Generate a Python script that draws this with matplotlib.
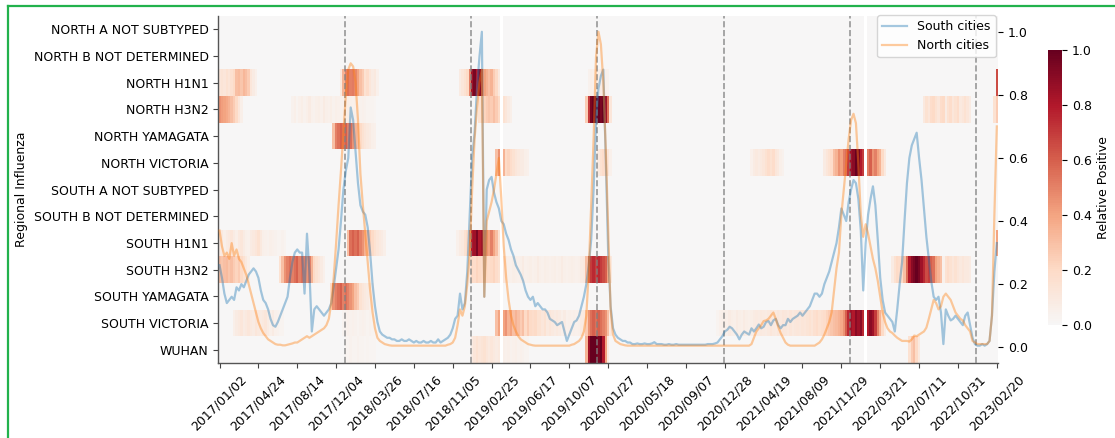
import numpy as np
import matplotlib
matplotlib.use("Agg")
import matplotlib.pyplot as plt
from matplotlib.colors import ListedColormap
from matplotlib.lines import Line2D

# ---- data (weekly, 2017/01/02 .. 2023/02/20) ----
n_weeks = 321

row_labels = ['NORTH A NOT SUBTYPED', 'NORTH B NOT DETERMINED', 'NORTH H1N1', 'NORTH H3N2',
              'NORTH YAMAGATA', 'NORTH VICTORIA', 'SOUTH A NOT SUBTYPED', 'SOUTH B NOT DETERMINED',
              'SOUTH H1N1', 'SOUTH H3N2', 'SOUTH YAMAGATA', 'SOUTH VICTORIA', 'WUHAN']

tick_labels = ['2017/01/02', '2017/04/24', '2017/08/14', '2017/12/04', '2018/03/26', '2018/07/16',
               '2018/11/05', '2019/02/25', '2019/06/17', '2019/10/07', '2020/01/27', '2020/05/18',
               '2020/09/07', '2020/12/28', '2021/04/19', '2021/08/09', '2021/11/29', '2022/03/21',
               '2022/07/11', '2022/10/31', '2023/02/20']
tick_weeks = [0, 16, 32, 48, 64, 80, 96, 112, 128, 144, 160, 176, 192, 208, 224, 240, 256, 272,
              288, 304, 320]

season_marks = [52, 104, 156, 208, 260, 312]
gap_weeks = [116, 266]

# positive rate per region (start week, values); weeks not listed are 0
north_a = []
north_b = []
north_h1n1 = [
    (0, [0.12, 0.14, 0.12, 0.15, 0.13, 0.16, 0.20, 0.30, 0.32, 0.28, 0.33, 0.30, 0.25, 0.12, 0.08, 0.05]),
    (50, [0.10, 0.35, 0.50, 0.55, 0.50, 0.52, 0.48, 0.40, 0.30, 0.25, 0.15, 0.18, 0.12, 0.08, 0.10, 0.05]),
    (99, [0.08, 0.12, 0.15, 0.20, 0.50, 0.85, 0.95, 0.80, 0.90, 0.70, 0.40, 0.35, 0.30, 0.35, 0.25, 0.20, 0.10]),
    (152, [0.04, 0.06, 0.05, 0.07, 0.06, 0.08, 0.06, 0.05, 0.04]),
    (320, [0.65]),
]
north_h3n2 = [
    (0, [0.45, 0.42, 0.40, 0.38, 0.35, 0.30, 0.25, 0.20, 0.12, 0.06]),
    (30, [0.04, 0.06, 0.03, 0.05, 0.07, 0.04, 0.06, 0.08, 0.05, 0.04, 0.06, 0.07, 0.05, 0.08, 0.06, 0.05,
          0.07, 0.04, 0.06, 0.05, 0.04, 0.05, 0.06, 0.07, 0.06, 0.05, 0.06, 0.05, 0.04, 0.05, 0.04, 0.03,
          0.03, 0.03, 0.02]),
    (107, [0.15, 0.20, 0.22, 0.25, 0.28, 0.25, 0.30, 0.25, 0.20, 0.00, 0.15, 0.12, 0.08, 0.06]),
    (151, [0.25, 0.70, 0.95, 1.00, 1.00, 1.00, 0.95, 1.00, 0.85, 0.55, 0.12]),
    (290, [0.10, 0.15, 0.12, 0.18, 0.20, 0.15, 0.12, 0.18, 0.20, 0.08, 0.15, 0.18, 0.12, 0.15, 0.18, 0.10,
           0.12, 0.15, 0.12, 0.08]),
    (319, [0.15, 0.25]),
]
north_yamagata = [
    (47, [0.30, 0.50, 0.55, 0.60, 0.55, 0.60, 0.50, 0.55, 0.45, 0.35, 0.30, 0.20, 0.15, 0.12, 0.10, 0.08,
          0.06, 0.05]),
]
north_victoria = [
    (114, [0.30, 0.45, 0.00, 0.35, 0.20, 0.22, 0.18, 0.15, 0.12, 0.10, 0.08, 0.08, 0.06, 0.05]),
    (156, [0.10, 0.15, 0.18, 0.15, 0.12, 0.05]),
    (219, [0.05, 0.08, 0.10, 0.08, 0.10, 0.12, 0.15, 0.18, 0.15, 0.18, 0.12, 0.10, 0.06, 0.04]),
    (249, [0.08, 0.12, 0.15, 0.18, 0.30, 0.35, 0.45, 0.40, 0.50, 0.55, 0.70, 0.85, 0.90, 1.00, 0.95, 0.80,
           0.70, 0.00, 0.50, 0.60, 0.45, 0.50, 0.40, 0.35, 0.20, 0.10]),
]
south_a = []
south_b = []
south_h1n1 = [
    (0, [0.08, 0.10, 0.06, 0.08, 0.10, 0.12, 0.08, 0.06, 0.10, 0.12, 0.08, 0.06, 0.05, 0.08, 0.10, 0.12,
         0.15, 0.10, 0.06, 0.05, 0.04, 0.06, 0.05, 0.04, 0.03, 0.03, 0.04, 0.03]),
    (53, [0.30, 0.55, 0.60, 0.55, 0.60, 0.50, 0.45, 0.35, 0.30, 0.25, 0.20, 0.15, 0.12, 0.10, 0.08, 0.06]),
    (98, [0.05, 0.08, 0.10, 0.15, 0.20, 0.45, 0.80, 0.85, 0.95, 0.80, 0.85, 0.50, 0.45, 0.40, 0.50, 0.40,
          0.30, 0.15]),
    (320, [0.40]),
]
south_h3n2 = [
    (0, [0.30, 0.28, 0.30, 0.32, 0.28, 0.30, 0.25, 0.22, 0.25, 0.20, 0.15, 0.10, 0.06]),
    (25, [0.15, 0.30, 0.45, 0.50, 0.55, 0.50, 0.55, 0.60, 0.50, 0.55, 0.50, 0.45, 0.50, 0.35, 0.20, 0.15,
          0.12, 0.08, 0.05]),
    (103, [0.10, 0.20, 0.18, 0.22, 0.20, 0.18, 0.22, 0.20, 0.18, 0.20, 0.22, 0.18, 0.15, 0.00, 0.12, 0.08,
           0.06, 0.05, 0.07, 0.06, 0.05, 0.06, 0.08, 0.05, 0.06, 0.07, 0.05, 0.06, 0.08, 0.06, 0.05, 0.07,
           0.06, 0.05, 0.06, 0.07, 0.05, 0.06, 0.08, 0.06, 0.05, 0.06, 0.07, 0.06, 0.05, 0.06, 0.08, 0.10]),
    (151, [0.30, 0.60, 0.70, 0.75, 0.70, 0.75, 0.70, 0.65, 0.60, 0.40, 0.10]),
    (277, [0.08, 0.15, 0.20, 0.18, 0.20, 0.30, 0.55, 0.80, 0.90, 0.95, 1.00, 0.95, 0.85, 0.75, 0.65, 0.70,
           0.60, 0.55, 0.40, 0.35, 0.30, 0.05, 0.15, 0.18, 0.15, 0.12, 0.15, 0.12, 0.10, 0.12, 0.10, 0.10,
           0.08]),
]
south_yamagata = [
    (46, [0.20, 0.45, 0.50, 0.55, 0.60, 0.50, 0.55, 0.50, 0.45, 0.40, 0.30, 0.25, 0.15, 0.12, 0.10, 0.08,
          0.06, 0.05]),
]
south_victoria = [
    (6, [0.06, 0.08, 0.10, 0.12, 0.08, 0.10, 0.12, 0.10, 0.08, 0.12, 0.10, 0.08, 0.10, 0.12, 0.08, 0.06,
         0.08, 0.05, 0.04, 0.03, 0.03]),
    (51, [0.03, 0.04, 0.05, 0.04, 0.05, 0.04, 0.03, 0.04, 0.05, 0.04, 0.03, 0.04, 0.03, 0.02]),
    (114, [0.30, 0.40, 0.00, 0.40, 0.45, 0.35, 0.40, 0.30, 0.35, 0.30, 0.25, 0.30, 0.20, 0.25, 0.20, 0.18,
           0.20, 0.15, 0.15, 0.12, 0.15, 0.10, 0.12, 0.10, 0.08, 0.10, 0.08, 0.06, 0.08, 0.05, 0.06, 0.05,
           0.06, 0.05, 0.06, 0.08, 0.10]),
    (151, [0.25, 0.45, 0.55, 0.60, 0.55, 0.60, 0.55, 0.50, 0.45, 0.30, 0.10]),
    (205, [0.03, 0.05, 0.06, 0.07, 0.06, 0.08, 0.07, 0.06, 0.08, 0.07, 0.06, 0.08, 0.07, 0.06, 0.07, 0.08,
           0.09, 0.08, 0.10, 0.09, 0.08, 0.10, 0.12, 0.10, 0.09, 0.11, 0.10, 0.12, 0.11, 0.10, 0.12, 0.10,
           0.11, 0.12, 0.11, 0.13, 0.12, 0.14, 0.15, 0.13, 0.16, 0.18, 0.15, 0.17, 0.18, 0.22, 0.25, 0.28,
           0.30, 0.32, 0.35, 0.38]),
    (257, [0.45, 0.60, 0.75, 0.85, 0.80, 0.90, 0.85, 0.90, 0.75, 0.00, 0.80, 0.90, 0.85, 0.70, 0.50, 0.35,
           0.20, 0.08]),
]
wuhan = [
    (52, [0.03, 0.03, 0.04, 0.03, 0.03, 0.04, 0.03, 0.03, 0.02, 0.03, 0.02, 0.02, 0.02]),
    (104, [0.08, 0.12, 0.15, 0.12, 0.14, 0.15, 0.12, 0.10, 0.12, 0.10, 0.08, 0.10, 0.00, 0.06, 0.05, 0.06,
           0.04, 0.05, 0.06, 0.04, 0.05, 0.04, 0.03, 0.03]),
    (151, [0.35, 0.85, 1.00, 1.00, 1.00, 0.95, 1.00, 0.80, 0.40, 0.10]),
    (284, [0.15, 0.25, 0.30, 0.20, 0.10]),
]

# city level positive rate (normalised)
south_cities = [
    0.26, 0.22, 0.17, 0.14, 0.15, 0.16, 0.15, 0.19, 0.18, 0.20, 0.19, 0.21, 0.23, 0.24, 0.25, 0.24,
    0.22, 0.18, 0.15, 0.14, 0.12, 0.09, 0.07, 0.065, 0.08, 0.10, 0.12, 0.14, 0.16, 0.22, 0.27, 0.30,
    0.31, 0.30, 0.30, 0.17, 0.36, 0.24, 0.05, 0.12, 0.13, 0.12, 0.11, 0.10, 0.11, 0.12, 0.14, 0.19,
    0.25, 0.31, 0.40, 0.50, 0.56, 0.60, 0.76, 0.72, 0.62, 0.52, 0.45, 0.43, 0.42, 0.38, 0.30, 0.20,
    0.13, 0.08, 0.05, 0.04, 0.035, 0.03, 0.03, 0.025, 0.025, 0.02, 0.02, 0.025, 0.02, 0.02, 0.025, 0.02,
    0.015, 0.02, 0.015, 0.015, 0.02, 0.015, 0.015, 0.02, 0.015, 0.015, 0.025, 0.015, 0.02, 0.025, 0.03, 0.04,
    0.06, 0.09, 0.10, 0.17, 0.12, 0.14, 0.24, 0.42, 0.60, 0.68, 0.82, 0.92, 1.00, 0.16, 0.50, 0.53,
    0.54, 0.49, 0.46, 0.44, 0.40, 0.39, 0.36, 0.34, 0.31, 0.29, 0.26, 0.245, 0.23, 0.21, 0.18, 0.16,
    0.15, 0.16, 0.13, 0.14, 0.13, 0.12, 0.12, 0.11, 0.09, 0.085, 0.08, 0.07, 0.075, 0.08, 0.05, 0.02,
    0.04, 0.06, 0.08, 0.085, 0.10, 0.13, 0.16, 0.20, 0.26, 0.34, 0.50, 0.72, 0.82, 0.86, 0.88, 0.60,
    0.30, 0.13, 0.06, 0.04, 0.03, 0.025, 0.02, 0.02, 0.015, 0.015, 0.01, 0.01, 0.012, 0.01, 0.01, 0.012,
    0.01, 0.01, 0.012, 0.016, 0.01, 0.01, 0.01, 0.008, 0.008, 0.01, 0.008, 0.008, 0.01, 0.008, 0.008, 0.008,
    0.008, 0.008, 0.008, 0.008, 0.008, 0.008, 0.008, 0.008, 0.008, 0.01, 0.01, 0.01, 0.012, 0.015, 0.025, 0.035,
    0.05, 0.055, 0.065, 0.06, 0.05, 0.04, 0.025, 0.04, 0.05, 0.045, 0.04, 0.06, 0.05, 0.06, 0.072, 0.06,
    0.065, 0.08, 0.083, 0.07, 0.085, 0.09, 0.07, 0.06, 0.07, 0.07, 0.09, 0.08, 0.09, 0.095, 0.10, 0.11,
    0.10, 0.11, 0.12, 0.13, 0.15, 0.17, 0.17, 0.16, 0.17, 0.20, 0.22, 0.24, 0.27, 0.30, 0.33, 0.38,
    0.44, 0.42, 0.40, 0.46, 0.50, 0.53, 0.52, 0.47, 0.37, 0.18, 0.33, 0.42, 0.47, 0.51, 0.45, 0.34,
    0.22, 0.15, 0.11, 0.10, 0.09, 0.08, 0.05, 0.12, 0.20, 0.27, 0.40, 0.52, 0.60, 0.64, 0.66, 0.68,
    0.60, 0.53, 0.44, 0.35, 0.28, 0.21, 0.16, 0.15, 0.16, 0.11, 0.01, 0.12, 0.10, 0.085, 0.09, 0.10,
    0.09, 0.08, 0.07, 0.10, 0.11, 0.07, 0.03, 0.01, 0.005, 0.005, 0.01, 0.005, 0.01, 0.02, 0.10, 0.24,
    0.33,
]
north_cities = [
    0.37, 0.32, 0.29, 0.30, 0.28, 0.33, 0.29, 0.31, 0.28, 0.27, 0.25, 0.23, 0.20, 0.17, 0.14, 0.11,
    0.08, 0.06, 0.045, 0.035, 0.025, 0.02, 0.015, 0.01, 0.008, 0.008, 0.006, 0.006, 0.008, 0.01, 0.012, 0.015,
    0.015, 0.02, 0.025, 0.03, 0.035, 0.03, 0.035, 0.04, 0.045, 0.05, 0.055, 0.06, 0.07, 0.09, 0.14, 0.22,
    0.33, 0.45, 0.56, 0.68, 0.80, 0.88, 0.90, 0.89, 0.84, 0.72, 0.55, 0.45, 0.36, 0.27, 0.18, 0.11,
    0.06, 0.03, 0.02, 0.015, 0.01, 0.008, 0.006, 0.005, 0.005, 0.005, 0.005, 0.005, 0.005, 0.005, 0.005, 0.005,
    0.005, 0.005, 0.005, 0.005, 0.005, 0.005, 0.005, 0.005, 0.005, 0.005, 0.005, 0.005, 0.005, 0.005, 0.008, 0.01,
    0.015, 0.03, 0.07, 0.12, 0.10, 0.13, 0.20, 0.30, 0.50, 0.66, 0.76, 0.84, 0.88, 0.16, 0.40, 0.43,
    0.46, 0.50, 0.55, 0.60, 0.47, 0.32, 0.22, 0.15, 0.10, 0.07, 0.05, 0.035, 0.025, 0.02, 0.015, 0.01,
    0.008, 0.006, 0.005, 0.005, 0.005, 0.005, 0.005, 0.005, 0.005, 0.005, 0.005, 0.005, 0.005, 0.005, 0.005, 0.005,
    0.005, 0.008, 0.01, 0.015, 0.02, 0.03, 0.05, 0.10, 0.24, 0.45, 0.66, 0.92, 1.00, 0.96, 0.84, 0.63,
    0.37, 0.12, 0.04, 0.02, 0.015, 0.01, 0.008, 0.006, 0.005, 0.005, 0.005, 0.005, 0.005, 0.005, 0.005, 0.005,
    0.005, 0.005, 0.005, 0.005, 0.005, 0.005, 0.005, 0.005, 0.005, 0.005, 0.005, 0.005, 0.005, 0.005, 0.005, 0.005,
    0.005, 0.005, 0.005, 0.005, 0.005, 0.005, 0.005, 0.005, 0.005, 0.005, 0.005, 0.005, 0.005, 0.005, 0.005, 0.005,
    0.005, 0.005, 0.005, 0.005, 0.005, 0.005, 0.005, 0.005, 0.005, 0.005, 0.005, 0.01, 0.03, 0.05, 0.06, 0.07,
    0.083, 0.085, 0.09, 0.10, 0.11, 0.09, 0.065, 0.045, 0.03, 0.015, 0.008, 0.005, 0.005, 0.005, 0.005, 0.005,
    0.005, 0.005, 0.005, 0.005, 0.005, 0.005, 0.01, 0.015, 0.025, 0.04, 0.06, 0.08, 0.11, 0.18, 0.25, 0.30,
    0.42, 0.50, 0.58, 0.66, 0.72, 0.74, 0.71, 0.58, 0.42, 0.35, 0.39, 0.36, 0.32, 0.28, 0.25, 0.21,
    0.16, 0.11, 0.08, 0.06, 0.05, 0.045, 0.037, 0.03, 0.025, 0.02, 0.02, 0.02, 0.018, 0.025, 0.037, 0.035,
    0.04, 0.045, 0.05, 0.062, 0.09, 0.12, 0.15, 0.14, 0.12, 0.13, 0.16, 0.17, 0.16, 0.15, 0.13, 0.11,
    0.10, 0.09, 0.085, 0.07, 0.06, 0.05, 0.02, 0.015, 0.01, 0.01, 0.01, 0.01, 0.01, 0.02, 0.10, 0.42,
    0.70,
]

rows = [north_a, north_b, north_h1n1, north_h3n2, north_yamagata, north_victoria, south_a, south_b,
        south_h1n1, south_h3n2, south_yamagata, south_victoria, wuhan]

# build matrix
heat = np.zeros((len(rows), n_weeks))
for r, segs in enumerate(rows):
    for start, vals in segs:
        heat[r, start:start + len(vals)] = vals
heat[:, gap_weeks] = np.nan
heat = np.ma.masked_invalid(heat)

# upper half of RdBu_r (like seaborn center=0, vmin=0)
cmap = ListedColormap(plt.get_cmap('RdBu_r')(np.linspace(0.5, 1.0, 256)))

plt.rcParams['font.family'] = ['DejaVu Sans']
plt.rcParams['font.size'] = 9

fig = plt.figure(figsize=(11.15, 4.38), dpi=100)
ax = fig.add_axes([0.1958, 0.1712, 0.6993, 0.7923])

mesh = ax.pcolormesh(np.arange(n_weeks + 1), np.arange(len(rows) + 1), heat,
                     cmap=cmap, vmin=0, vmax=1, linewidth=0, rasterized=True)
ax.set_xlim(0, n_weeks)
ax.set_ylim(len(rows), 0)
ax.set_yticks(np.arange(len(rows)) + 0.5)
ax.set_yticklabels(row_labels, fontsize=9)
ax.set_xticks(np.array(tick_weeks) + 0.5)
ax.set_xticklabels(tick_labels, rotation=45, fontsize=9)
ax.set_ylabel('Regional Influenza', fontsize=9)
ax.tick_params(axis='both', length=3.5, width=0.8, color='#444444')
for side in ['top', 'right']:
    ax.spines[side].set_visible(False)
for side in ['left', 'bottom']:
    ax.spines[side].set_color('#555555')
    ax.spines[side].set_linewidth(1.0)

# city curves on twin axis
ax2 = ax.twinx()
x = np.arange(n_weeks) + 0.5
for m in season_marks:
    ax2.axvline(m, color='gray', linestyle='--', linewidth=1.2, alpha=0.8, zorder=1)
ax2.plot(x, south_cities, color='tab:blue', alpha=0.4, linewidth=1.6, label='South cities', zorder=2)
ax2.plot(x, north_cities, color='tab:orange', alpha=0.4, linewidth=1.6, label='North cities', zorder=3)
ax2.set_ylim(-0.05, 1.05)
ax2.set_yticks(np.arange(0, 1.01, 0.2))
ax2.tick_params(axis='y', length=3.5, width=0.8, labelsize=9)
for side in ax2.spines:
    ax2.spines[side].set_visible(False)
ax2.legend(loc='upper right', bbox_to_anchor=(1.0, 1.01), borderaxespad=0.2, fontsize=9)

# colorbar
cax = fig.add_axes([0.940, 0.258, 0.0125, 0.628])
cb = fig.colorbar(mesh, cax=cax)
cb.outline.set_visible(False)
cb.set_ticks(np.arange(0, 1.01, 0.2))
cb.ax.tick_params(labelsize=9, length=3.5, width=0.8)
cb.set_label('Relative Positive', fontsize=9)

# green frame
fig.add_artist(Line2D([8 / 1115, 1.0], [1 - 6 / 438, 1 - 6 / 438], color='#22b24c', linewidth=1.6))
fig.add_artist(Line2D([8 / 1115, 8 / 1115], [0.0, 1 - 6 / 438], color='#22b24c', linewidth=1.6))

fig.savefig('out.png', dpi=100)
